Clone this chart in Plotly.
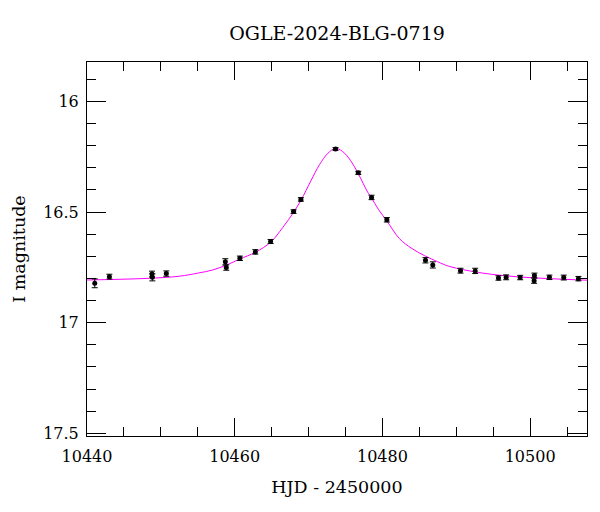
import plotly.graph_objects as go

# Observed photometry (HJD - 2450000, I mag, error)
obs_t = [10441.05, 10443.03, 10448.80, 10448.85, 10450.74, 10458.73, 10458.86,
         10460.70, 10462.79, 10464.86, 10467.97, 10468.96, 10473.65, 10476.73,
         10478.53, 10480.60, 10485.83, 10486.82, 10490.57, 10492.56, 10495.71,
         10496.75, 10498.65, 10500.58, 10500.54, 10502.61, 10504.55, 10506.54]
obs_mag = [16.822, 16.792, 16.780, 16.795, 16.778, 16.725, 16.751,
           16.709, 16.680, 16.633, 16.498, 16.443, 16.215, 16.323,
           16.434, 16.535, 16.718, 16.739, 16.765, 16.766, 16.798,
           16.795, 16.796, 16.787, 16.810, 16.795, 16.796, 16.801]
obs_err = [0.020, 0.011, 0.013, 0.016, 0.012, 0.014, 0.012,
           0.010, 0.010, 0.009, 0.008, 0.008, 0.006, 0.007,
           0.010, 0.010, 0.012, 0.014, 0.011, 0.012, 0.010,
           0.011, 0.010, 0.011, 0.012, 0.010, 0.011, 0.010]

# Model curve
model_t = [10440.0, 10448.0, 10452.5, 10455.0, 10457.0, 10459.0, 10460.7,
           10462.8, 10464.9, 10466.5, 10468.0, 10469.0, 10470.3, 10471.5,
           10472.6, 10473.6, 10474.6, 10475.7, 10476.7, 10478.0, 10478.5,
           10479.5, 10480.6, 10482.3, 10484.0, 10485.7, 10487.5, 10489.1,
           10493.6, 10498.1, 10502.6, 10507.7]
model_mag = [16.807, 16.800, 16.790, 16.776, 16.762, 16.738, 16.712,
             16.682, 16.635, 16.570, 16.500, 16.445, 16.360, 16.285,
             16.235, 16.213, 16.226, 16.268, 16.325, 16.410, 16.435,
             16.490, 16.540, 16.620, 16.665, 16.697, 16.725, 16.746,
             16.776, 16.792, 16.801, 16.808]

title_text = "OGLE-2024-BLG-0719"
x_title = "HJD - 2450000"
y_title = "I magnitude"

FONT = "DejaVu Serif"
W, H = 592, 504  # page body has an 8px margin

fig = go.Figure()
fig.add_trace(go.Scatter(
    x=model_t, y=model_mag, mode="lines", line=dict(color="#ff00ff", width=1, shape="spline"),
    hoverinfo="skip", showlegend=False))
fig.add_trace(go.Scatter(
    x=obs_t, y=obs_mag, mode="markers",
    marker=dict(color="black", size=5),
    error_y=dict(type="data", array=obs_err, visible=True, color="black", thickness=1, width=3),
    showlegend=False))

axis_common = dict(
    showline=True, linecolor="black", linewidth=1, mirror="allticks",
    ticks="inside", tickcolor="black", tickwidth=1,
    showgrid=False, zeroline=False, automargin=False,
    tickfont=dict(family=FONT, size=16, color="black"),
)

fig.update_layout(
    width=W, height=H,
    margin=dict(l=79, r=13, t=54, b=76),
    paper_bgcolor="white", plot_bgcolor="white",
    title=dict(text=title_text, x=(79 + 579) / 2 / W, xanchor="center",
               y=1 - 25 / H, yanchor="middle", automargin=False,
               font=dict(family=FONT, size=19, color="black")),
    xaxis=dict(range=[10440, 10507.7], tick0=10440, dtick=20, ticklen=18, tickformat="d",
               ticklabelstandoff=6,
               minor=dict(dtick=5, tick0=10440, ticklen=9, ticks="inside", tickcolor="black"),
               title=dict(text=x_title, font=dict(family=FONT, size=17.5, color="black"), standoff=15),
               **axis_common),
    yaxis=dict(range=[17.512, 15.822], tick0=16, dtick=0.5, ticklen=19,
               ticklabelstandoff=4,
               minor=dict(dtick=0.1, tick0=16, ticklen=9, ticks="inside", tickcolor="black"),
               title=dict(text=y_title, font=dict(family=FONT, size=17.5, color="black"), standoff=13),
               **axis_common),
)

fig.write_html("out.html")
